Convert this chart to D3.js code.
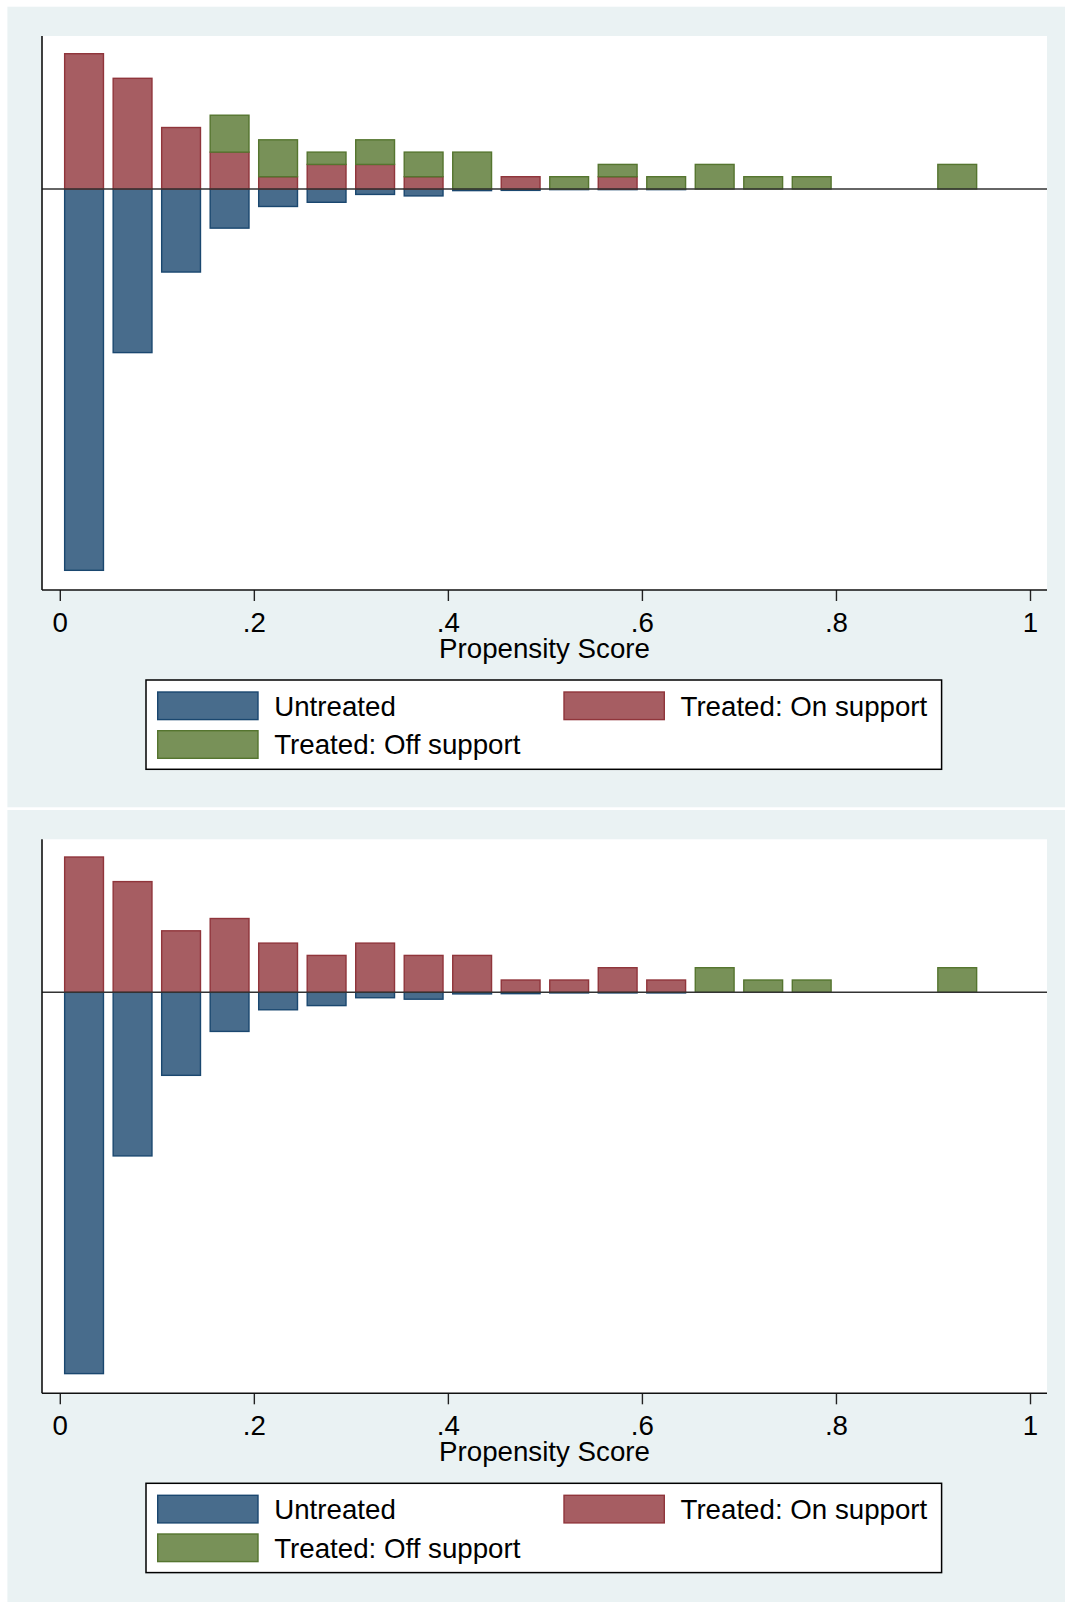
<!DOCTYPE html>
<html>
<head>
<meta charset="utf-8">
<script src="https://cdn.jsdelivr.net/npm/d3@7/dist/d3.min.js"></script>
<style>
  html, body { margin: 0; padding: 0; background: #ffffff; }
  svg { display: block; }
  text { font-family: "Liberation Sans", Arial, sans-serif; fill: #000; }
</style>
</head>
<body>
<svg id="chart" width="1065" height="1602"></svg>
<script>
// ---- Data (propensity score histogram, bins of width 0.05) ----
const binCenters = [0.025, 0.075, 0.125, 0.175, 0.225, 0.275, 0.325, 0.375, 0.425, 0.475,
                    0.525, 0.575, 0.625, 0.675, 0.725, 0.775, 0.825, 0.875, 0.925, 0.975];
// Untreated (plotted downward)
const untreated = [31.0, 13.3, 6.75, 3.18, 1.42, 1.08, 0.44, 0.56, 0.13, 0.11,
                   0.05, 0.05, 0.05, 0, 0, 0, 0, 0, 0, 0];
// Panel 1
const onSupport1  = [11, 9, 5, 3, 1, 2, 2, 1, 0, 1, 0, 1, 0, 0, 0, 0, 0, 0, 0, 0];
const offSupport1 = [0, 0, 0, 3, 3, 1, 2, 2, 3, 0, 1, 1, 1, 2, 1, 1, 0, 0, 2, 0];
// Panel 2
const onSupport2  = [11, 9, 5, 6, 4, 3, 4, 3, 3, 1, 1, 2, 1, 0, 0, 0, 0, 0, 0, 0];
const offSupport2 = [0, 0, 0, 0, 0, 0, 0, 0, 0, 0, 0, 0, 0, 2, 1, 1, 0, 0, 2, 0];

const xTicks = [0, 0.2, 0.4, 0.6, 0.8, 1];
const xTickLabels = ["0", ".2", ".4", ".6", ".8", "1"];
const xTitle = "Propensity Score";
const legendLabels = ["Untreated", "Treated: On support", "Treated: Off support"];

// ---- Styles ----
const BG = "#eaf2f3";
const colors = {
  untreated: { fill: "#486c8c", stroke: "#1a476f" },
  on:        { fill: "#a65d62", stroke: "#90353b" },
  off:       { fill: "#789158", stroke: "#55752f" }
};
const binWidth = 0.05, barWidth = 0.04;

const svg = d3.select("#chart");

const x = d3.scaleLinear().domain([0, 1]).range([59.8, 1030]);
const y = d3.scaleLinear().domain([-32.6, 12.44]).range([590, 36]);

const plotLeft = 42, plotRight = 1047, plotTop = 36, plotBottom = 590;

function drawPanel(offsetY, onSupport, offSupport) {
  const g = svg.append("g").attr("transform", `translate(0,${offsetY})`);

  // panel background
  g.append("rect").attr("x", 7.4).attr("y", 6.7).attr("width", 1065 - 7.4).attr("height", 800.6)
    .attr("fill", BG);
  // plot region
  g.append("rect").attr("x", plotLeft).attr("y", plotTop)
    .attr("width", plotRight - plotLeft).attr("height", plotBottom - plotTop).attr("fill", "#fff");

  const data = binCenters.map((c, i) => ({ c, u: untreated[i], on: onSupport[i], off: offSupport[i] }));

  const bar = (sel, key, y0f, y1f, col) => {
    sel.selectAll("rect." + key)
      .data(data.filter(d => (key === "u" ? d.u : d[key]) > 0))
      .join("rect")
      .attr("class", key)
      .attr("x", d => x(d.c - barWidth / 2))
      .attr("width", d => x(d.c + barWidth / 2) - x(d.c - barWidth / 2))
      .attr("y", d => Math.min(y(y0f(d)), y(y1f(d))))
      .attr("height", d => Math.abs(y(y0f(d)) - y(y1f(d))))
      .attr("fill", col.fill)
      .attr("stroke", col.stroke)
      .attr("stroke-width", 1.4);
  };
  const bars = g.append("g");
  bar(bars, "u", d => 0, d => -d.u, colors.untreated);
  bar(bars, "on", d => 0, d => d.on, colors.on);
  bar(bars, "off", d => d.on, d => d.on + d.off, colors.off);

  // zero line
  g.append("line").attr("x1", plotLeft).attr("x2", plotRight)
    .attr("y1", y(0)).attr("y2", y(0)).attr("stroke", "#333").attr("stroke-width", 1.5);

  // y axis line
  g.append("line").attr("x1", plotLeft).attr("x2", plotLeft)
    .attr("y1", plotTop).attr("y2", plotBottom).attr("stroke", "#111").attr("stroke-width", 1.6);

  // x axis
  const axis = d3.axisBottom(x).tickValues(xTicks)
    .tickFormat((d, i) => xTickLabels[i]).tickSize(11).tickPadding(0);
  const ax = g.append("g").attr("transform", `translate(0,${plotBottom})`).call(axis);
  ax.select(".domain").remove();
  ax.selectAll(".tick line").attr("stroke", "#222").attr("stroke-width", 1.4);
  ax.selectAll(".tick text").attr("dy", null).attr("y", 41.7)
    .style("font-size", "27.7px").style("font-family", '"Liberation Sans", Arial, sans-serif')
    .attr("fill", "#000");
  g.append("line").attr("x1", plotLeft).attr("x2", plotRight)
    .attr("y1", plotBottom).attr("y2", plotBottom).attr("stroke", "#111").attr("stroke-width", 1.6);

  g.append("text").attr("x", (plotLeft + plotRight) / 2).attr("y", 658)
    .attr("text-anchor", "middle").style("font-size", "27.7px").text(xTitle);

  // legend
  const lg = g.append("g");
  lg.append("rect").attr("x", 146).attr("y", 680).attr("width", 795.6).attr("height", 89.3)
    .attr("fill", "#fff").attr("stroke", "#000").attr("stroke-width", 1.5);
  const items = [
    { label: legendLabels[0], col: colors.untreated, sx: 157.7, sy: 692 },
    { label: legendLabels[1], col: colors.on, sx: 564, sy: 692 },
    { label: legendLabels[2], col: colors.off, sx: 157.7, sy: 730.7 }
  ];
  items.forEach(it => {
    lg.append("rect").attr("x", it.sx).attr("y", it.sy).attr("width", 100.3).attr("height", 27.6)
      .attr("fill", it.col.fill).attr("stroke", it.col.stroke).attr("stroke-width", 1.4);
    lg.append("text").attr("x", it.sx + 116.5).attr("y", it.sy + 23.7)
      .style("font-size", "27.7px").text(it.label);
  });
}

drawPanel(0, onSupport1, offSupport1);
drawPanel(803.3, onSupport2, offSupport2);
</script>
</body>
</html>
